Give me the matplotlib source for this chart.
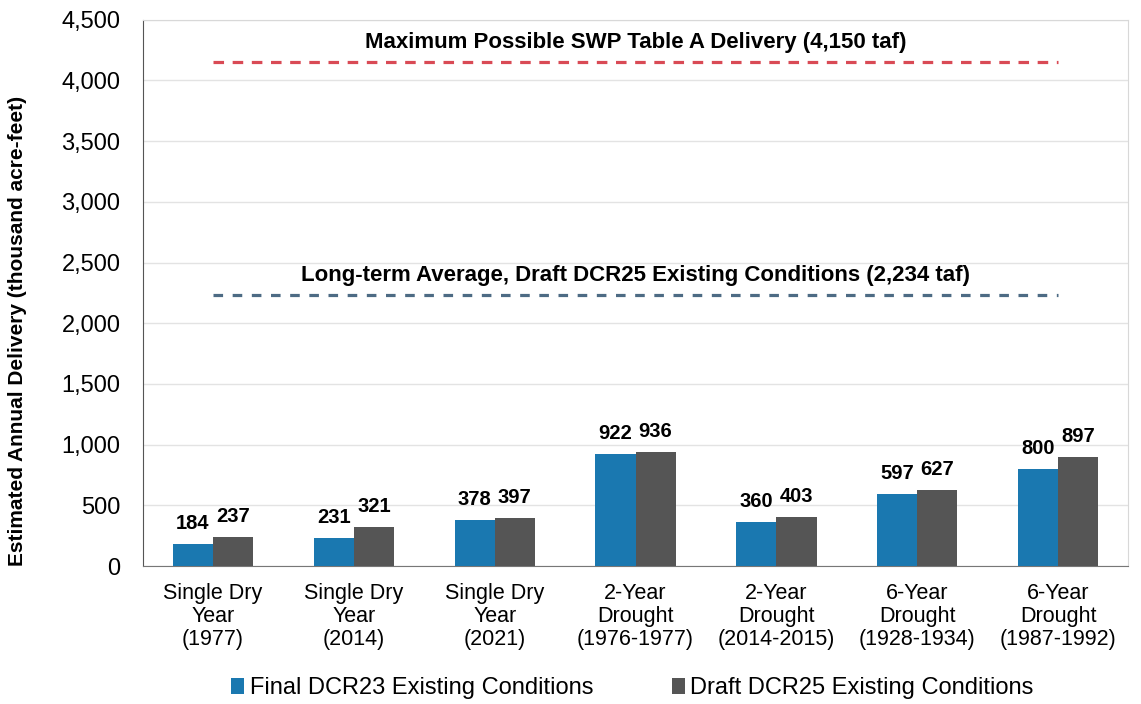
import matplotlib
matplotlib.use('Agg')
import matplotlib.pyplot as plt
import numpy as np

plt.rcParams['font.family'] = ['Liberation Sans', 'DejaVu Sans']

# categories and values (thousand acre-feet)
categories = ['Single Dry\nYear\n(1977)', 'Single Dry\nYear\n(2014)', 'Single Dry\nYear\n(2021)',
              '2-Year\nDrought\n(1976-1977)', '2-Year\nDrought\n(2014-2015)',
              '6-Year\nDrought\n(1928-1934)', '6-Year\nDrought\n(1987-1992)']
dcr23 = [184, 231, 378, 922, 360, 597, 800]
dcr25 = [237, 321, 397, 936, 403, 627, 897]
max_table_a = 4150
long_term_avg = 2234

blue = '#1a78b0'
gray = '#555555'

fig = plt.figure(figsize=(11.41, 7.04), dpi=100)
ax = fig.add_axes([0.125, 0.196, 0.864, 0.776])

x = np.arange(len(categories))
w = 0.285
b1 = ax.bar(x - w/2, dcr23, w, color=blue, label='Final DCR23 Existing Conditions', zorder=3)
b2 = ax.bar(x + w/2, dcr25, w, color=gray, label='Draft DCR25 Existing Conditions', zorder=3)

for bars in (b1, b2):
    for r in bars:
        ax.text(r.get_x() + r.get_width()/2, r.get_height() + 90, f'{int(r.get_height())}',
                ha='center', va='bottom', fontsize=14.5, fontweight='bold')

# reference lines
ax.plot([x[0], x[-1]], [max_table_a, max_table_a], color='#d94a55', lw=2.3,
        dashes=(3.3, 2.7), zorder=4)
ax.plot([x[0], x[-1]], [long_term_avg, long_term_avg], color='#4d6b84', lw=2.3,
        dashes=(3.0, 3.0), zorder=4)
ax.text(3, max_table_a + 75, 'Maximum Possible SWP Table A Delivery (4,150 taf)',
        ha='center', va='bottom', fontsize=16, fontweight='bold')
ax.text(3, long_term_avg + 75, 'Long-term Average, Draft DCR25 Existing Conditions (2,234 taf)',
        ha='center', va='bottom', fontsize=16, fontweight='bold')

ax.set_xlim(-0.5, len(categories) - 0.5)
ax.set_ylim(0, 4500)
ax.set_yticks(np.arange(0, 4501, 500))
ax.set_yticklabels([f'{v:,}' for v in range(0, 4501, 500)], fontsize=17)
ax.set_xticks(x)
ax.set_xticklabels(categories, fontsize=15.5, linespacing=1.12)
ax.tick_params(axis='y', length=0, pad=16)
ax.tick_params(axis='x', length=0, pad=12)
ax.grid(axis='y', color='#e3e3e3', lw=1, zorder=0)
ax.set_ylabel('Estimated Annual Delivery (thousand acre-feet)', fontsize=15,
              fontweight='bold')
ax.yaxis.set_label_coords(-0.117, 0.43)

for s in ['top', 'right']:
    ax.spines[s].set_color('#d8d8d8')
ax.spines['left'].set_color('#555555')
ax.spines['bottom'].set_color('#777777')

ax.legend(loc='center', bbox_to_anchor=(0.497, -0.224), ncol=2, frameon=False,
          fontsize=17, handlelength=0.55, handleheight=0.7, handletextpad=0.25,
          columnspacing=3.3)

fig.savefig('out.png', dpi=100)
